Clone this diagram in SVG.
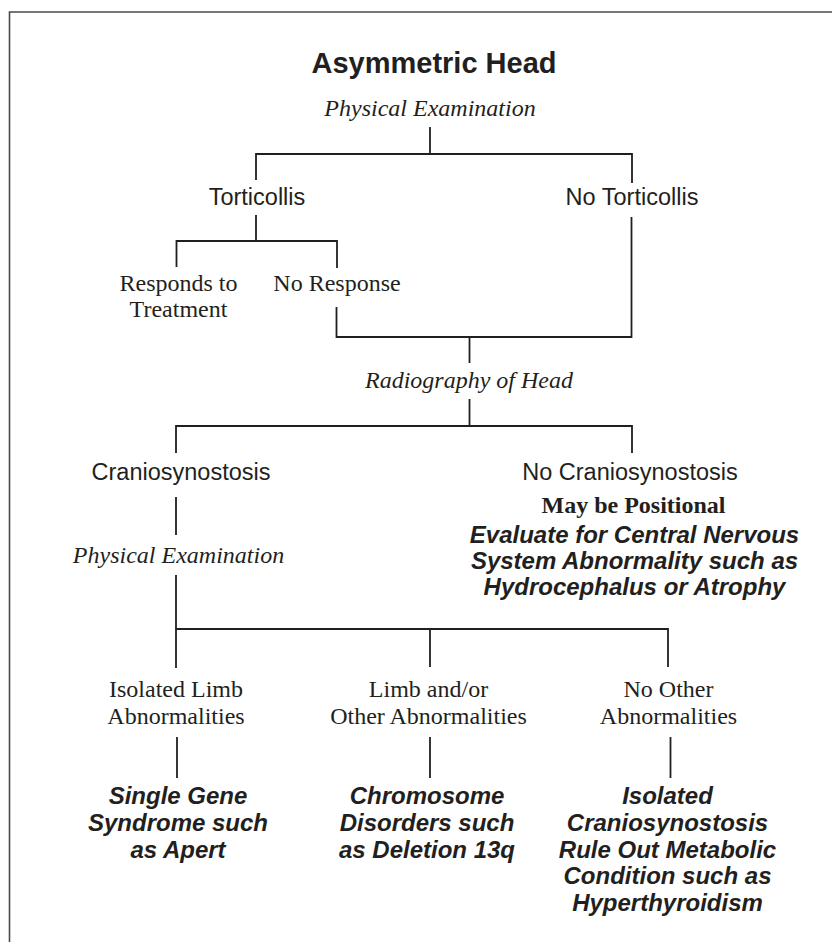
<svg xmlns="http://www.w3.org/2000/svg" width="832" height="942" viewBox="0 0 832 942">
<style>
  .frame { fill: none; stroke: #4a4a4a; stroke-width: 1.6; }
  .conn line, .conn path { stroke: #231f20; stroke-width: 1.8; fill: none; stroke-linecap: butt; }
  text { fill: #231f20; text-anchor: middle; }
  .title { font-family: "Liberation Sans", Arial, sans-serif; font-weight: bold; font-size: 29px; }
  .sans { font-family: "Liberation Sans", Arial, sans-serif; font-size: 23.5px; }
  .serif { font-family: "Liberation Serif", "Times New Roman", serif; font-size: 24px; }
  .serif-i { font-family: "Liberation Serif", "Times New Roman", serif; font-style: italic; font-size: 24px; }
  .serif-b { font-family: "Liberation Serif", "Times New Roman", serif; font-weight: bold; font-size: 24px; }
  .sans-bi { font-family: "Liberation Sans", Arial, sans-serif; font-weight: bold; font-style: italic; font-size: 24px; }
</style>
<rect width="832" height="942" fill="#ffffff"/>
<path class="frame" d="M9.5,945 V12 H840"/>

<g id="connectors" class="conn">
  <line x1="430" y1="127" x2="430" y2="154"/>
  <path d="M256,180 V154 H632 V183"/>
  <line x1="256" y1="215" x2="256" y2="241"/>
  <path d="M176.5,267 V241 H337 V268"/>
  <path d="M336.5,307 V337 H631.5 V217"/>
  <line x1="469.5" y1="337" x2="469.5" y2="363"/>
  <line x1="469.5" y1="399" x2="469.5" y2="426"/>
  <path d="M176,453 V426 H632 V453"/>
  <line x1="176" y1="497" x2="176" y2="535"/>
  <line x1="176" y1="575" x2="176" y2="629"/>
  <path d="M176,668 V629 H668 V667"/>
  <line x1="430" y1="629" x2="430" y2="667"/>
  <line x1="177" y1="737" x2="177" y2="778"/>
  <line x1="430" y1="737" x2="430" y2="778"/>
  <line x1="670.5" y1="737" x2="670.5" y2="778"/>
</g>

<g id="title"><text class="title" x="434" y="73">Asymmetric Head</text></g>
<g id="physical-exam-1"><text class="serif-i" x="430" y="115.5">Physical Examination</text></g>
<g id="torticollis"><text class="sans" x="257" y="205">Torticollis</text></g>
<g id="no-torticollis"><text class="sans" x="632" y="205">No Torticollis</text></g>
<g id="responds"><text class="serif" x="178.5" y="291">Responds to</text><text class="serif" x="178.5" y="317">Treatment</text></g>
<g id="no-response"><text class="serif" x="337" y="291">No Response</text></g>
<g id="radiography"><text class="serif-i" x="469" y="388">Radiography of Head</text></g>
<g id="craniosynostosis"><text class="sans" x="181" y="480">Craniosynostosis</text></g>
<g id="no-craniosynostosis">
  <text class="sans" x="630" y="480">No Craniosynostosis</text>
  <text class="serif-b" x="633.5" y="512.5">May be Positional</text>
  <text class="sans-bi" x="634.5" y="543">Evaluate for Central Nervous</text>
  <text class="sans-bi" x="634.5" y="569">System Abnormality such as</text>
  <text class="sans-bi" x="634.5" y="595">Hydrocephalus or Atrophy</text>
</g>
<g id="physical-exam-2"><text class="serif-i" x="178.5" y="563">Physical Examination</text></g>
<g id="isolated-limb"><text class="serif" x="176" y="697">Isolated Limb</text><text class="serif" x="176" y="724">Abnormalities</text></g>
<g id="limb-other"><text class="serif" x="428.5" y="697">Limb and/or</text><text class="serif" x="428.5" y="724">Other Abnormalities</text></g>
<g id="no-other"><text class="serif" x="668.5" y="697">No Other</text><text class="serif" x="668.5" y="724">Abnormalities</text></g>
<g id="single-gene">
  <text class="sans-bi" x="178" y="804">Single Gene</text>
  <text class="sans-bi" x="178" y="831">Syndrome such</text>
  <text class="sans-bi" x="178" y="858">as Apert</text>
</g>
<g id="chromosome">
  <text class="sans-bi" x="427" y="804">Chromosome</text>
  <text class="sans-bi" x="427" y="831">Disorders such</text>
  <text class="sans-bi" x="427" y="858">as Deletion 13q</text>
</g>
<g id="isolated-cranio">
  <text class="sans-bi" x="667.5" y="804">Isolated</text>
  <text class="sans-bi" x="667.5" y="831">Craniosynostosis</text>
  <text class="sans-bi" x="667.5" y="858">Rule Out Metabolic</text>
  <text class="sans-bi" x="667.5" y="884">Condition such as</text>
  <text class="sans-bi" x="667.5" y="911">Hyperthyroidism</text>
</g>
</svg>
